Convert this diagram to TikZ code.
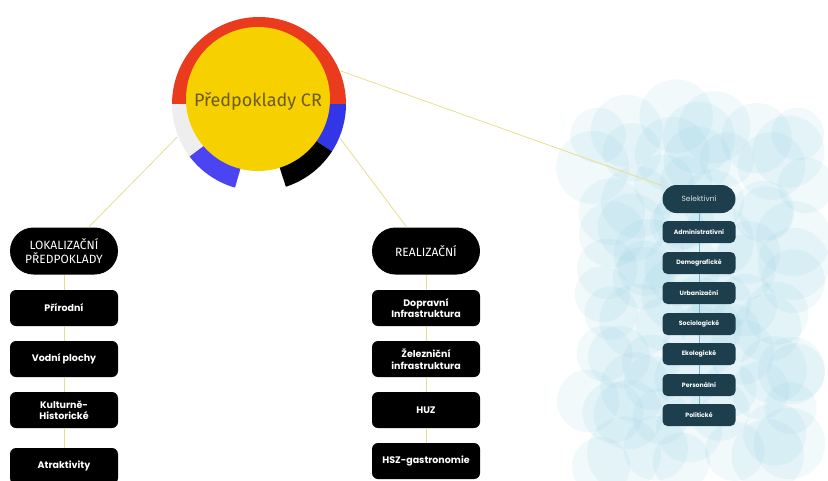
\documentclass[tikz,border=0pt]{standalone}
\usepackage{fontspec}
\newfontfamily\titlefont{Fira Sans}
\newfontfamily\boxfont{Poppins}
\definecolor{ringred}{HTML}{EA3B1E}
\definecolor{ringblue}{HTML}{3236E6}
\definecolor{ringblueb}{HTML}{4A44F2}
\definecolor{ringgrey}{HTML}{EEEEEE}
\definecolor{coreyellow}{HTML}{F7D000}
\definecolor{coretext}{HTML}{6B5A1E}
\definecolor{linkyellow}{HTML}{E6DE8E}
\definecolor{linkblue}{HTML}{6BB4D6}
\definecolor{tealbox}{HTML}{1D3E4C}
\definecolor{tealtext}{HTML}{DCE4E8}
\definecolor{bubble}{HTML}{7CC4DC}
\usetikzlibrary{positioning}
\tikzset{
  headbox/.style={fill=black, text=white, rounded corners=23.5pt, inner sep=0pt,
    minimum width=108pt, minimum height=47pt, align=center,
    font=\titlefont\fontsize{12}{14}\selectfont},
  listbox/.style={fill=black, text=white, rounded corners=6pt, inner sep=0pt,
    minimum width=108pt, minimum height=36pt, align=center,
    font=\boxfont\bfseries\fontsize{9.5}{11.5}\selectfont},
  selhead/.style={fill=tealbox, text=tealtext, rounded corners=14pt, inner sep=0pt,
    minimum width=73pt, minimum height=28pt,
    font=\boxfont\fontsize{7.5}{9}\selectfont},
  selbox/.style={fill=tealbox, text=white, rounded corners=5pt, inner sep=0pt,
    minimum width=73pt, minimum height=22pt,
    font=\boxfont\bfseries\fontsize{6.2}{7}\selectfont},
  link/.style={draw=linkyellow, line width=0.8pt},
  sellink/.style={draw=linkblue, line width=0.8pt},
}
\newcommand{\ringpart}[3]{%
 \fill[#1] (259,104) -- ++(#2:87) arc (#2:#3:87) -- cycle;%
}
\begin{document}
\begin{tikzpicture}[x=1pt,y=-1pt]
   \useasboundingbox (0,0) rectangle (828,480);
   \clip (0,0) rectangle (828,480);
   % bubbles behind the right column
   \pgfmathsetseed{7}
   \foreach \bx in {600,632,...,820}
     \foreach \by in {132,164,...,452}{
       \pgfmathsetmacro\jx{\bx+16*rand}
       \pgfmathsetmacro\jy{\by+16*rand}
       \pgfmathsetmacro\br{26+12*rnd}
       \fill[bubble, opacity=0.11] (\jx,\jy) circle (\br);
     }
   % ring and core
   \ringpart{ringred}{-180}{0};
   \ringpart{ringblue}{0}{33};
   \ringpart{black}{33}{72};
   \ringpart{ringblueb}{106}{143};
   \ringpart{ringgrey}{143}{180};
   \fill[coreyellow] (258,99) circle (72);
   \node[circle, minimum size=176pt, inner sep=0pt] (ring) at (259,104) {};
   \node[text=coretext, font=\titlefont\fontsize{18}{20}\selectfont] (core) at (258,101) {Předpoklady CR};
   % left column
   \node[headbox] (lok) at (64,251) {LOKALIZAČNÍ\\PŘEDPOKLADY};
   \node[listbox] (pri) at (64,308) {Přírodní};
   \node[listbox] (vod) at (64,359) {Vodní plochy};
   \node[listbox] (kul) at (64,410) {Kulturně-\\Historické};
   \node[listbox] (atr) at (64,466) {Atraktivity};
   % middle column
   \node[headbox] (real) at (426,251) {REALIZAČNÍ};
   \node[listbox] (dop) at (426,308) {Dopravní\\Infrastruktura};
   \node[listbox] (zel) at (426,359) {Železniční\\infrastruktura};
   \node[listbox] (huz) at (426,410) {HUZ};
   \node[listbox] (hsz) at (426,461) {HSZ-gastronomie};
   % right column
   \node[selhead] (sel) at (699,199) {Selektivní};
   \node[selbox] (adm) at (699,232) {Administrativní};
   \node[selbox] (dem) at (699,263) {Demografické};
   \node[selbox] (urb) at (699,293) {Urbanizační};
   \node[selbox] (soc) at (699,324) {Sociologické};
   \node[selbox] (eko) at (699,354) {Ekologické};
   \node[selbox] (per) at (699,385) {Personální};
   \node[selbox] (pol) at (699,415) {Politické};
   % connectors
   \draw[link] (ring.202) -- (lok.44);
   \draw[link] (ring.-23) -- (real.129);
   \draw[link] (ring.22) -- (sel.160);
   \foreach \a/\b in {lok/pri, pri/vod, vod/kul, kul/atr, real/dop, dop/zel, zel/huz, huz/hsz}
     \draw[link] (\a) -- (\b);
   \foreach \a/\b in {sel/adm, adm/dem, dem/urb, urb/soc, soc/eko, eko/per, per/pol}
     \draw[sellink] (\a) -- (\b);
\end{tikzpicture}
\end{document}
